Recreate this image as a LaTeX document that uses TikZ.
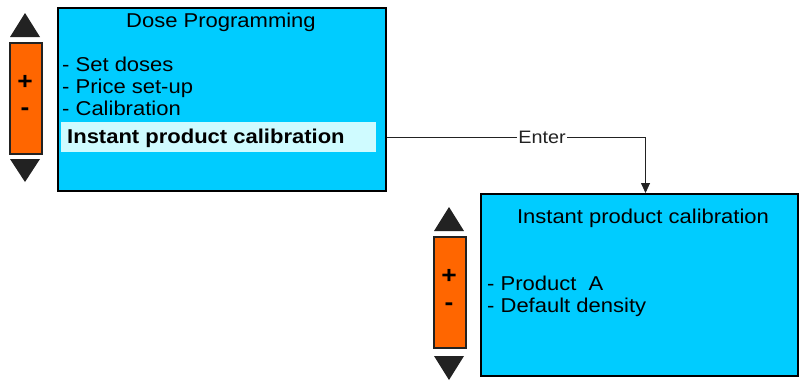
\documentclass[tikz,border=0pt]{standalone}
\usepackage{fontspec}
\setmainfont[FakeStretch=1.1]{Liberation Sans}
\usetikzlibrary{arrows.meta}
\definecolor{screenblue}{HTML}{00CCFF}
\definecolor{keyorange}{HTML}{FF6600}
\definecolor{hilite}{HTML}{CFFBFF}
\definecolor{arrowgray}{HTML}{222222}
\begin{document}
\begin{tikzpicture}[x=1pt,y=-1pt,
    screen/.style={draw=black, line width=2pt, fill=screenblue, inner sep=0pt, anchor=north west},
    keybar/.style={draw=arrowgray, line width=2pt, fill=keyorange, inner sep=0pt, anchor=north west,
                   minimum width=32pt, minimum height=111pt},
    item/.style={anchor=base west, inner sep=0pt, font=\fontsize{20}{22}\selectfont},
    title/.style={anchor=base, inner sep=0pt, font=\fontsize{20}{22}\selectfont},
    sign/.style={inner sep=0pt, font=\bfseries\fontsize{24}{26}\selectfont}]
    \useasboundingbox (0,0) rectangle (799,380);

% first screen
\node[screen, minimum width=328pt, minimum height=183pt] (dose) at (57,7) {};
\node[title] (dosetitle) at (221,27) {Dose Programming};
\node[item] (setdoses) at (62,71) {- Set doses};
\node[item] (price) at (62,93) {- Price set-up};
\node[item] (calib) at (62,115) {- Calibration};
\node[fill=hilite, inner sep=0pt, anchor=north west, minimum width=315pt, minimum height=30pt] (hl) at (61,122) {};
\node[item, font=\bfseries\fontsize{20}{22}\selectfont] (instant) at (67,143) {Instant product calibration};

% keys of the first screen
\fill[arrowgray] (10,37) -- (40,37) -- (25,13) -- cycle;
\node[keybar] (keys1) at (9,42) {};
\fill[arrowgray] (10,159) -- (40,159) -- (25,182) -- cycle;
\node[sign] (plus1) at (25,82) {+};
\node[sign] (minus1) at (25,112) {-};

% second screen
\node[screen, minimum width=317pt, minimum height=182pt] (ipc) at (480,193) {};
\node[title] (ipctitle) at (643,223) {Instant product calibration};
\node[item] (proda) at (487,290) {- Product\ \ A};
\node[item] (density) at (487,312) {- Default density};

% keys of the second screen
\fill[arrowgray] (434,231) -- (464,231) -- (449,207) -- cycle;
\node[keybar] (keys2) at (433,236) {};
\fill[arrowgray] (434,356) -- (464,356) -- (449,380) -- cycle;
\node[sign] (plus2) at (449,276) {+};
\node[sign] (minus2) at (449,307) {-};

% connector
\coordinate (tip) at ([xshift=6pt]ipc.north);
\draw[arrowgray, line width=0.8pt, -{Triangle[width=9pt,length=10pt]}]
    (hl -| dose.east) -- node[pos=0.6, fill=white, inner sep=1pt, font=\fontsize{18}{19}\selectfont] (enter) {Enter}
    (hl -| tip) -- (tip);

\end{tikzpicture}
\end{document}
